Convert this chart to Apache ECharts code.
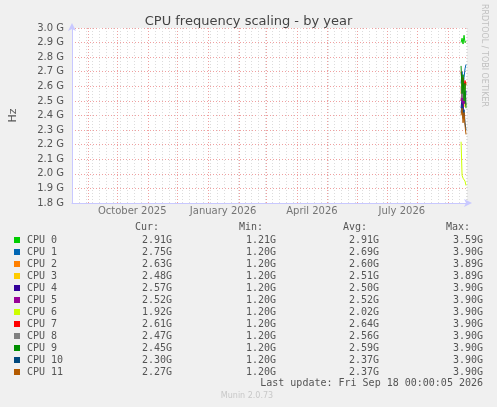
<!DOCTYPE html>
<html>
<head>
<meta charset="utf-8">
<script src="https://cdn.jsdelivr.net/npm/echarts@6/dist/echarts.min.js"></script>
<style>
  html, body { margin: 0; padding: 0; background: #f0f0f0; }
  #main { width: 497px; height: 407px; }
</style>
</head>
<body>
<div id="main"></div>
<script>
// time range of the graph: 400 days
var DAY = 86400000;
var startTime = Date.UTC(2025, 7, 16);
var endTime = startTime + 400 * DAY;

// sample days (daily consolidation)
var days = [
  Date.UTC(2026, 8, 14), Date.UTC(2026, 8, 15), Date.UTC(2026, 8, 16),
  Date.UTC(2026, 8, 17), Date.UTC(2026, 8, 18), Date.UTC(2026, 8, 19)
];

var names = ["CPU 0", "CPU 1", "CPU 2", "CPU 3", "CPU 4", "CPU 5",
             "CPU 6", "CPU 7", "CPU 8", "CPU 9", "CPU 10", "CPU 11"];
var colors = ["#00cc00", "#0066b3", "#ff8000", "#ffcc00", "#330099", "#990099",
              "#ccff00", "#ff0000", "#808080", "#008f00", "#00487d", "#b35a00"];

// GHz values
var cpu0 = [2.90, 2.93, 2.89, 2.95, 2.90, 2.91];
var cpu1 = [2.62, 2.70, 2.58, 2.66, 2.72, 2.75];
var cpu2 = [2.55, 2.66, 2.52, 2.60, 2.58, 2.63];
var cpu3 = [2.50, 2.56, 2.44, 2.53, 2.46, 2.48];
var cpu4 = [2.45, 2.52, 2.42, 2.55, 2.48, 2.57];
var cpu5 = [2.50, 2.58, 2.46, 2.55, 2.49, 2.52];
var cpu6 = [2.22, 1.99, 1.97, 1.96, 1.95, 1.92];
var cpu7 = [2.70, 2.63, 2.66, 2.60, 2.64, 2.61];
var cpu8 = [2.60, 2.52, 2.57, 2.50, 2.55, 2.47];
var cpu9 = [2.74, 2.55, 2.68, 2.50, 2.62, 2.45];
var cpu10 = [2.42, 2.48, 2.38, 2.44, 2.35, 2.30];
var cpu11 = [2.40, 2.45, 2.35, 2.42, 2.33, 2.27];
var allCpu = [cpu0, cpu1, cpu2, cpu3, cpu4, cpu5, cpu6, cpu7, cpu8, cpu9, cpu10, cpu11];

// legend table
var curVals = ["2.91G", "2.75G", "2.63G", "2.48G", "2.57G", "2.52G", "1.92G", "2.61G", "2.47G", "2.45G", "2.30G", "2.27G"];
var minVals = ["1.21G", "1.20G", "1.20G", "1.20G", "1.20G", "1.20G", "1.20G", "1.20G", "1.20G", "1.20G", "1.20G", "1.20G"];
var avgVals = ["2.91G", "2.69G", "2.60G", "2.51G", "2.50G", "2.52G", "2.02G", "2.64G", "2.56G", "2.59G", "2.37G", "2.37G"];
var maxVals = ["3.59G", "3.90G", "3.89G", "3.89G", "3.90G", "3.90G", "3.90G", "3.90G", "3.90G", "3.90G", "3.90G", "3.90G"];

// month labels (placed mid-month) and month grid lines
var monthLabels = [
  [Date.UTC(2025, 9, 16), "October 2025"],
  [Date.UTC(2026, 0, 16), "January 2026"],
  [Date.UTC(2026, 3, 16), "April 2026"],
  [Date.UTC(2026, 6, 16), "July 2026"]
];
var monthStarts = [];
for (var m = 0; m <= 12; m++) monthStarts.push(Date.UTC(2025, 8 + m, 1));

var myChart = echarts.init(document.getElementById("main"));

var series = allCpu.map(function (vals, i) {
  return {
    name: names[i],
    type: "line",
    data: vals.map(function (v, j) { return [days[j], v]; }),
    showSymbol: false,
    lineStyle: { width: 1, color: colors[i] },
    itemStyle: { color: colors[i] },
    z: 5,
    animation: false
  };
});

// red month grid lines
series.push({
  type: "line",
  data: [],
  silent: true,
  markLine: {
    symbol: ["none", "none"],
    silent: true,
    label: { show: false },
    lineStyle: { color: "#f0a0a0", type: [1, 2], width: 1 },
    data: monthStarts.map(function (t) { return { xAxis: t }; }),
    animation: false
  }
});

// invisible points carrying the month labels
series.push({
  type: "scatter",
  data: monthLabels.map(function (d) { return [d[0], 1.8, d[1]]; }),
  symbolSize: 0,
  silent: true,
  label: {
    show: true,
    position: "bottom",
    distance: 3,
    formatter: function (p) { return p.data[2]; },
    color: "#555",
    fontFamily: "DejaVu Sans",
    fontSize: 10
  },
  animation: false
});

// legend graphics
var graphic = [];
var mono = "10px 'DejaVu Sans Mono'";
var heads = [["Cur:", 159], ["Min:", 263], ["Avg:", 367], ["Max:", 470]];
heads.forEach(function (h) {
  graphic.push({ type: "text", x: h[1], y: 227, style: { text: h[0], font: mono, fill: "#555", align: "right", verticalAlign: "middle" } });
});
names.forEach(function (n, i) {
  var y = 240 + i * 12;
  graphic.push({ type: "rect", shape: { x: 14, y: y - 3, width: 6, height: 6 }, style: { fill: colors[i] } });
  graphic.push({ type: "text", x: 27, y: y, style: { text: n, font: mono, fill: "#555", verticalAlign: "middle" } });
  [[curVals, 172], [minVals, 276], [avgVals, 379], [maxVals, 483]].forEach(function (c) {
    graphic.push({ type: "text", x: c[1], y: y, style: { text: c[0][i], font: mono, fill: "#555", align: "right", verticalAlign: "middle" } });
  });
});
graphic.push({ type: "text", x: 483, y: 383, style: { text: "Last update: Fri Sep 18 00:00:05 2026", font: mono, fill: "#555", align: "right", verticalAlign: "middle" } });
graphic.push({ type: "text", x: 247, y: 396, style: { text: "Munin 2.0.73", font: "8px 'DejaVu Sans'", fill: "#c8c8c8", align: "center", verticalAlign: "middle" } });
graphic.push({ type: "text", x: 484, y: 4, rotation: -Math.PI / 2, style: { text: "RRDTOOL / TOBI OETIKER", font: "8px 'DejaVu Sans'", fill: "#c0c0c0", verticalAlign: "middle" } });

myChart.setOption({
  backgroundColor: "#f0f0f0",
  animation: false,
  title: {
    text: "CPU frequency scaling - by year",
    left: "center",
    top: 10,
    textStyle: { fontFamily: "DejaVu Sans", fontSize: 13, fontWeight: "normal", color: "#444" }
  },
  grid: {
    left: 67, right: 30, top: 28, bottom: 204,
    show: true, backgroundColor: "#ffffff", borderWidth: 0
  },
  xAxis: {
    type: "value",
    min: startTime,
    max: endTime,
    interval: 7 * DAY,
    axisLine: { show: true, lineStyle: { color: "#c8c8ff" }, symbol: ["none", "arrow"], symbolSize: [6, 8], symbolOffset: [0, 5] },
    axisTick: { show: false },
    axisLabel: { show: false },
    splitLine: { show: true, lineStyle: { color: "#dcdcdc", type: [1, 2] } }
  },
  yAxis: {
    type: "value",
    min: 1.8,
    max: 3.0,
    interval: 0.1,
    name: "Hz",
    nameLocation: "middle",
    nameGap: 53,
    nameRotate: 90,
    nameTextStyle: { color: "#555", fontFamily: "DejaVu Sans", fontSize: 11 },
    axisLine: { show: true, lineStyle: { color: "#c8c8ff" }, symbol: ["none", "arrow"], symbolSize: [6, 8], symbolOffset: [0, 5] },
    axisTick: { show: false },
    axisLabel: {
      color: "#555", fontFamily: "DejaVu Sans", fontSize: 10, margin: 8,
      formatter: function (v) { return v.toFixed(1) + " G"; }
    },
    splitLine: { show: true, lineStyle: { color: "#f0a0a0", type: [1, 2] } }
  },
  graphic: graphic,
  series: series
});
</script>
</body>
</html>
